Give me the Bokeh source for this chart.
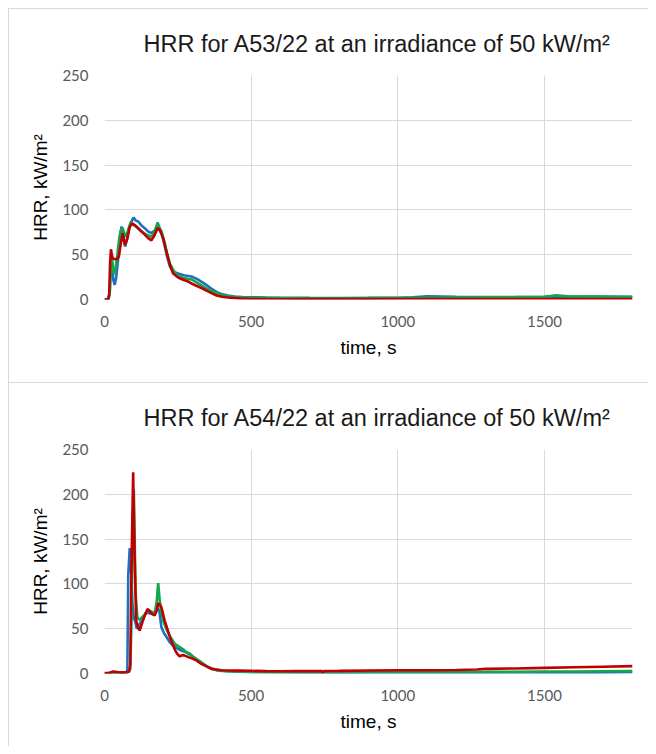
from bokeh.plotting import figure
from bokeh.layouts import column
from bokeh.models import Range1d, FixedTicker
from bokeh.embed import file_html
from bokeh.resources import INLINE

# ---------------- data ----------------
x_ticks = [0, 500, 1000, 1500]
y_ticks = [0, 50, 100, 150, 200, 250]

titles = ["HRR for A53/22 at an irradiance of 50 kW/m\u00b2",
          "HRR for A54/22 at an irradiance of 50 kW/m\u00b2"]

# A53/22
a53_blue_t = [0, 13, 18, 22, 26, 30, 35, 40, 46, 52, 58, 64, 70, 76, 83, 90, 99, 107, 115, 125,
              137, 148, 160, 168, 177, 186, 194, 203, 213, 223, 234, 251, 270, 296, 315, 330, 348,
              365, 382, 399, 420, 444, 470, 500, 550, 600, 700, 800, 900, 1000, 1050, 1100, 1150,
              1200, 1300, 1400, 1500, 1550, 1600, 1700, 1800]
a53_blue_v = [0, 0, 10, 45, 35, 22, 16.4, 25, 44, 62, 81.5, 72, 59, 66, 78, 86, 91.5, 88, 87, 83,
              79.6, 76, 74, 76, 79.5, 78, 74, 63, 48, 37, 31, 29, 27, 25.7, 23, 20, 16,
              12, 8.5, 6, 4.5, 3.3, 2.8, 2.5, 2.2, 2, 1.8, 1.7, 1.8, 2, 2.5, 3.5, 3.3,
              3, 2.6, 2.8, 3, 3.2, 3, 3.2, 3]

a53_green_t = [0, 14, 18, 22, 26, 32, 38, 44, 50, 55, 62, 70, 78, 89, 100, 112, 125, 140, 160, 170,
               181, 188, 194, 203, 213, 223, 236, 251, 270, 300, 325, 350, 375, 400, 425, 450, 500,
               600, 700, 800, 900, 1000, 1100, 1200, 1300, 1400, 1500, 1540, 1580, 1650, 1700, 1800]
a53_green_v = [0, 0, 8, 40, 45, 28, 35, 50, 68, 77, 80, 70, 75, 86, 83, 80, 76, 73, 70, 75,
               86, 80, 76, 66, 52, 40, 32, 26, 24, 22, 17, 12, 8, 5, 3.5, 2.5, 1.8,
               1.5, 1.3, 1.4, 1.5, 1.6, 2, 2.3, 2.5, 2.6, 3, 4.8, 3.5, 3.2, 3, 2.8]

a53_red_t = [0, 12, 16, 19, 22, 25, 28, 35, 42, 49, 55, 62, 66, 70, 78, 86, 94, 104, 117, 132,
             149, 160, 171, 181, 190, 200, 211, 223, 234, 251, 268, 285, 302, 319, 336, 353, 368,
             382, 400, 421, 445, 466, 500, 550, 600, 700, 800, 900, 1000, 1100, 1200, 1300, 1400,
             1500, 1600, 1700, 1800]
a53_red_v = [0, 0, 5, 40, 56, 50, 46, 45, 45, 48, 61, 74, 66, 61, 68, 81, 85, 83, 79, 74,
             68.5, 66, 72, 80, 77, 68.5, 53.6, 38.7, 29, 24.6, 22, 20, 17, 14.5, 12, 9, 6.5,
             4.5, 3, 2.2, 1.5, 1, 0.6, 0.5, 0.3, 0.4, 0.5, 0.4, 0.5, 0.4, 0.5, 0.5, 0.4,
             0.5, 0.5, 0.6, 0.5]

# A54/22
a54_blue_t = [0, 20, 40, 60, 75, 78, 81, 86, 90, 95, 100, 104, 110, 118, 126, 135, 143, 155, 165,
              173, 180, 187, 194, 203, 211, 222, 234, 248, 262, 276, 291, 305, 319, 336, 353, 370,
              387, 420, 460, 500, 600, 700, 800, 900, 1000, 1100, 1200, 1300, 1400, 1500, 1600,
              1700, 1800]
a54_blue_v = [0, 0.5, 1, 0.8, 1, 5, 110, 140, 120, 80, 62, 59, 50, 54, 59, 64, 68, 67, 66,
              69, 73, 70, 51.6, 45, 41, 35, 31, 28, 25.7, 24, 22, 18, 14.5, 10.5, 7, 5,
              3.7, 2.5, 2, 1.5, 1.2, 1, 1, 0.8, 0.8, 0.7, 0.7, 0.6, 0.7, 0.7, 0.8,
              1, 1.5]

a54_green_t = [0, 20, 40, 60, 80, 88, 92, 96, 100, 103, 106, 112, 120, 126, 137, 149, 160, 171,
               178, 183, 188, 194, 200, 208, 216, 228, 240, 254, 268, 282, 296, 313, 330, 347,
               365, 382, 400, 450, 500, 600, 700, 800, 900, 1000, 1100, 1200, 1300, 1400, 1500,
               1600, 1700, 1800]
a54_green_v = [0, 0.5, 1, 1, 1.5, 5, 60, 170, 205, 150, 90, 62, 60, 62, 66, 70.6, 69, 67,
               80, 100.8, 82, 68, 59, 52, 46, 39, 33, 30, 27, 23, 20, 16, 12.6, 8.5,
               5.2, 3.5, 2.8, 2.2, 1.8, 1.5, 1.4, 1.5, 1.6, 1.7, 1.8, 1.7, 1.8, 2, 2.2,
               2.3, 2.5, 2.6]

a54_red_t = [0, 15, 30, 45, 60, 75, 84, 88, 92, 97.7, 101, 104, 108, 114, 120, 131, 140, 146.6,
             153, 160, 171, 178, 183, 188, 194, 205, 214, 223, 232, 240, 248, 257, 265, 274, 288,
             302, 316, 330, 348, 365, 382, 399, 430, 460, 500, 550, 600, 650, 700, 742, 745, 748,
             800, 900, 1000, 1100, 1200, 1270, 1300, 1400, 1500, 1600, 1700, 1800]
a54_red_v = [0.5, 0.5, 2.3, 1.5, 1, 1.5, 2, 10, 120, 224.7, 160, 111, 59, 52, 48, 59, 67, 72,
             70, 67, 64.7, 70, 78.5, 77, 74, 59, 50, 40.5, 33, 26.4, 22, 19, 20.5, 20, 18,
             16.4, 14, 10.8, 8, 5.2, 4.5, 3.7, 3.3, 3.2, 3.0, 2.6, 2.5, 2.8, 2.6, 2.8, 0.8, 2.8,
             2.9, 3.3, 3.6, 3.6, 3.9, 4.5, 5.2, 5.6, 6.3, 7, 7.6, 8.2]

BLUE = "#1f6fc0"
GREEN = "#12a84a"
RED = "#c00000"
GRID = "#d9d9d9"


def make_panel(title, series, height, bottom, styles):
    p = figure(width=640, height=height, output_backend="svg", toolbar_location=None,
               x_range=Range1d(0, 1800), y_range=Range1d(0, 250),
               min_border_left=95, min_border_right=17, min_border_top=66,
               min_border_bottom=bottom, styles=styles)
    p.title.text = title
    p.title.text_font = "Liberation Sans"
    p.title.text_font_size = "23.5px"
    p.title.text_font_style = "normal"
    p.title.text_color = "#1a1a1a"
    p.title.align = "left"
    p.title.offset = 39
    p.title.standoff = 38
    p.outline_line_color = None
    p.background_fill_color = "white"
    p.border_fill_color = "white"

    for ax in (p.xaxis[0], p.yaxis[0]):
        ax.axis_line_color = None
        ax.major_tick_line_color = None
        ax.minor_tick_line_color = None
        ax.major_label_text_font = "Lato"
        ax.major_label_text_font_size = "15px"
        ax.major_label_text_color = "#595959"
        ax.axis_label_text_font = "Liberation Sans"
        ax.axis_label_text_font_size = "19px"
        ax.axis_label_text_font_style = "normal"
        ax.axis_label_text_color = "#000000"
    p.xaxis.ticker = FixedTicker(ticks=x_ticks)
    p.yaxis.ticker = FixedTicker(ticks=y_ticks)
    p.xaxis.axis_label = "time, s"
    p.yaxis.axis_label = "HRR, kW/m\u00b2"
    p.xaxis.major_label_standoff = 10
    p.yaxis.major_label_standoff = 10
    p.xaxis.axis_label_standoff = 7
    p.yaxis.axis_label_standoff = 8

    p.xgrid.grid_line_color = GRID
    p.ygrid.grid_line_color = GRID
    p.xgrid.grid_line_width = 1
    p.ygrid.grid_line_width = 1

    for (t, v, c) in series:
        p.line(t, v, line_color=c, line_width=2.6)
    return p


p1 = make_panel(titles[0], [(a53_blue_t, a53_blue_v, BLUE),
                            (a53_green_t, a53_green_v, GREEN),
                            (a53_red_t, a53_red_v, RED)], 375, 85,
                {"border-top": "1px solid #d9d9d9",
                 "border-left": "1px solid #d9d9d9",
                 "border-bottom": "1px solid #d9d9d9",
                 "box-sizing": "border-box"})
p2 = make_panel(titles[1], [(a54_blue_t, a54_blue_v, BLUE),
                            (a54_green_t, a54_green_v, GREEN),
                            (a54_red_t, a54_red_v, RED)], 363, 73,
                {"border-left": "1px solid #d9d9d9", "box-sizing": "border-box"})

layout = column(p1, p2, spacing=0, margin=(8, 0, 0, 8))
open("out.html", "w").write(file_html(layout, INLINE))
